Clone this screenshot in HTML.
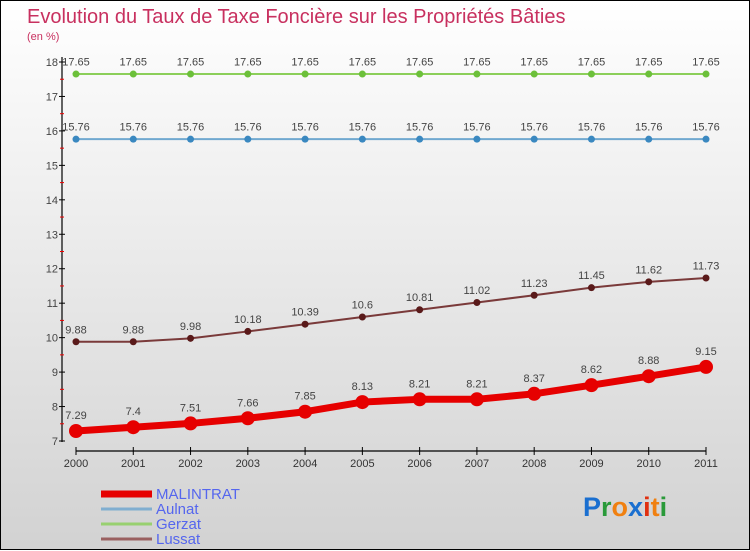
<!DOCTYPE html>
<html><head><meta charset="utf-8">
<style>
html,body{margin:0;padding:0}
body{width:750px;height:550px;overflow:hidden;font-family:"Liberation Sans",sans-serif}
#wrap{position:relative;width:748px;height:548px;border:1px solid #000;background:linear-gradient(#ffffff,#d2d2d2)}
svg{position:absolute;left:0;top:0}
</style></head>
<body>
<div id="wrap">
<svg id="chart" width="750" height="550">
<text x="26" y="22" font-size="20" fill="#c8305f">Evolution du Taux de Taxe Foncière sur les Propriétés Bâties</text>
<text x="26" y="39" font-size="11" fill="#c8305f">(en %)</text>
<g id="axes"></g>
<g id="series"></g>
<g id="legend"></g>
<text x="582" y="515" font-size="27" font-weight="bold"><tspan fill="#1a6fd0">P</tspan><tspan fill="#2a9a3a">r</tspan><tspan fill="#f08010">o</tspan><tspan fill="#1a6fd0">x</tspan><tspan fill="#e03010">i</tspan><tspan fill="#f08010">t</tspan><tspan fill="#2a9a3a">i</tspan></text>
</svg>
</div>
<script>
const years=[2000,2001,2002,2003,2004,2005,2006,2007,2008,2009,2010,2011];
const yTicks=[7,8,9,10,11,12,13,14,15,16,17,18];
const malintrat=[7.29,7.4,7.51,7.66,7.85,8.13,8.21,8.21,8.37,8.62,8.88,9.15];
const aulnat=[15.76,15.76,15.76,15.76,15.76,15.76,15.76,15.76,15.76,15.76,15.76,15.76];
const gerzat=[17.65,17.65,17.65,17.65,17.65,17.65,17.65,17.65,17.65,17.65,17.65,17.65];
const lussat=[9.88,9.88,9.98,10.18,10.39,10.6,10.81,11.02,11.23,11.45,11.62,11.73];
const NS='http://www.w3.org/2000/svg';
const xS=i=>75+i*(705-75)/(years.length-1);
const yS=v=>440-(v-7)*(440-61)/11;
function mk(tag,attrs,parent,text){const e=document.createElementNS(NS,tag);for(const k in attrs)e.setAttribute(k,attrs[k]);if(text!==undefined)e.textContent=text;parent.appendChild(e);return e;}
const axes=document.getElementById('axes');
let el=mk('line',{x1:61,y1:56,x2:61,y2:441,stroke:'#000','stroke-width':1.2},axes);


el=mk('line',{x1:75,y1:450,x2:705,y2:450,stroke:'#000','stroke-width':1.2},axes);


yTicks.forEach(v=>{
  mk('line',{x1:58,x2:64,y1:yS(v),y2:yS(v),stroke:'#000'},axes);
  if(v<18)mk('line',{x1:59,x2:63,y1:yS(v+0.5),y2:yS(v+0.5),stroke:'#e00'},axes);
  const t=mk('text',{x:57,y:yS(v)+4,'text-anchor':'end','font-size':11,fill:'#444'},axes,String(v));
  
  
});
years.forEach((y,i)=>{
  mk('line',{x1:xS(i),x2:xS(i),y1:446,y2:454,stroke:'#000'},axes);
  const t=mk('text',{x:xS(i),y:466,'text-anchor':'middle','font-size':11,fill:'#333'},axes,String(y));
  
  
});
const ser=document.getElementById('series');
function draw(name,vals,color,dot,w,r,lblCol){
  const g=mk('g',{},ser);
  
  
  const pts=vals.map((v,i)=>xS(i)+','+yS(v)).join(' ');
  mk('polyline',{points:pts,fill:'none',stroke:color,'stroke-width':w,'stroke-linejoin':'round'},g);
  vals.forEach((v,i)=>{
    const c=mk('circle',{cx:xS(i),cy:yS(v),r:r,fill:dot},g);
    
    
    const t=mk('text',{x:xS(i),y:yS(v)-r-5,'text-anchor':'middle','font-size':11,fill:lblCol},g,String(v));
    
    
  });
}
draw('gerzat',gerzat,'#8ccf5a','#6cc03a',2,3.5,'#444');
draw('aulnat',aulnat,'#70a8d0','#3a88c0',2,3.5,'#444');
draw('lussat',lussat,'#7a3a3a','#5a1a1a',2,3.5,'#444');
draw('malintrat',malintrat,'#e60000','#e60000',7,7,'#444');
const lg=document.getElementById('legend');
const items=[['MALINTRAT','#e60000',7],['Aulnat','#80aed0',3],['Gerzat','#98d070',3],['Lussat','#9a6060',3]];
items.forEach((it,i)=>{
  const y=492+i*15;
  const g=mk('g',{},lg);
  
  
  mk('line',{x1:100,x2:151,y1:y+1,y2:y+1,stroke:it[1],'stroke-width':it[2]},g);
  mk('text',{x:155,y:y+6,'font-size':15,fill:'#5566ee'},g,it[0]);
});
</script>
</body></html>
